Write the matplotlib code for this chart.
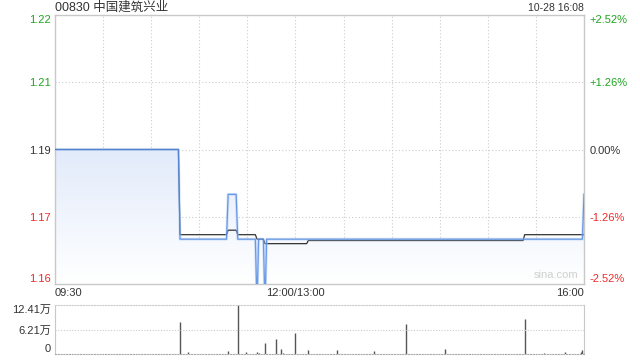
import numpy as np
import matplotlib
matplotlib.use("Agg")
import matplotlib.pyplot as plt
from matplotlib.patches import Polygon
from matplotlib.colors import LinearSegmentedColormap

plt.rcParams['font.family'] = ['Liberation Sans', 'Noto Sans CJK SC', 'DejaVu Sans']

# ---- data ----
title = "00830 中国建筑兴业"
stamp = "10-28 16:08"
prev_close = 1.19

price_times = ["09:30", "10:47", "10:48", "11:17", "11:18", "11:23", "11:24", "11:35",
               "11:36", "11:37", "11:40", "11:41", "11:42", "15:59", "16:00"]
price_vals = [1.19, 1.19, 1.17, 1.17, 1.18, 1.18, 1.17, 1.17,
              1.155, 1.17, 1.17, 1.155, 1.17, 1.17, 1.18]

avg_times = ["09:30", "10:47", "10:48", "11:17", "11:18", "11:23", "11:24", "11:35",
             "11:36", "11:40", "11:41", "13:07", "13:08", "15:22", "15:23", "16:00"]
avg_vals = [1.19, 1.19, 1.171, 1.171, 1.172, 1.172, 1.171, 1.171,
            1.170, 1.170, 1.169, 1.169, 1.1697, 1.1697, 1.171, 1.171]

vol_times = ["10:48", "10:53", "11:18", "11:24", "11:29", "11:36", "11:37", "11:41", "11:48",
             "11:51", "11:52", "13:00", "13:08", "13:26", "13:49", "14:09", "14:33", "15:23",
             "15:35", "15:48", "15:58", "15:59"]
vol_vals = [8.0, 0.58, 0.84, 12.41, 0.58, 0.58, 0.33, 2.86, 3.87,
            1.34, 0.3, 5.39, 1.1, 1.1, 0.75, 7.5, 1.3, 8.95,
            0.3, 0.6, 0.5, 1.0]  # 万

y_ticks = [1.16, 1.175, 1.19, 1.205, 1.22]
y_labels = ["1.16", "1.17", "1.19", "1.21", "1.22"]
pct_labels = ["-2.52%", "-1.26%", "0.00%", "+1.26%", "+2.52%"]
vol_ticks = [0, 6.205, 12.41]
vol_labels = ["0", "6.21万", "12.41万"]


def to_idx(t):
    # minutes from the open, lunch break removed
    h, m = map(int, t.split(":"))
    mins = h * 60 + m
    if mins <= 12 * 60:
        return mins - (9 * 60 + 30)
    return 150 + mins - 13 * 60


GREEN = "#1fa51f"
RED = "#ee2a2a"
TXT = "#333333"
GRID = "#cccccc"
EDGE = "#c8c8c8"

px = np.array([to_idx(t) for t in price_times])
pv = np.array(price_vals)
ax_ = np.array([to_idx(t) for t in avg_times])
av = np.array(avg_vals)
vx = np.array([to_idx(t) for t in vol_times])
vv = np.array(vol_vals)

fig = plt.figure(figsize=(6.4, 3.6), dpi=100)
ax = fig.add_axes([55 / 640, 1 - 284 / 360, 529 / 640, 269 / 360])
axv = fig.add_axes([55 / 640, 1 - 354 / 360, 529 / 640, 49 / 360])

ax.set_xlim(0, 330)
ax.set_ylim(1.16, 1.22)

# gradient fill under the price line
grad = np.linspace(0, 1, 256).reshape(-1, 1)
cm = LinearSegmentedColormap.from_list("g", ["#ffffff", "#e2ebfb"])
im = ax.imshow(grad, extent=[0, 330, 1.16, prev_close], origin="lower", aspect="auto",
               cmap=cm, zorder=1)
poly_pts = np.column_stack([np.r_[px, px[-1], px[0]], np.r_[pv, 1.14, 1.14]])
clip = Polygon(poly_pts, closed=True, transform=ax.transData, facecolor="none", edgecolor="none")
ax.add_patch(clip)
im.set_clip_path(clip)

# grid
for x in range(30, 330, 30):
    ax.axvline(x, color=GRID, lw=0.8, ls=(0, (1, 2)), zorder=0)
for y in [1.175, 1.19, 1.205]:
    ax.axhline(y, color=GRID, lw=0.8, ls=(0, (1, 2)), zorder=0)

ax.plot(ax_, av, color="#333333", lw=0.9, zorder=3)
ax.plot(px, pv, color="#a9c8f6", lw=2.0, alpha=0.5, zorder=4)
ax.plot(px, pv, color="#4f86e0", lw=0.9, alpha=0.8, zorder=4)

for s in ax.spines.values():
    s.set_color(EDGE)
    s.set_linewidth(1)

ax.set_yticks(y_ticks)
ax.set_yticklabels(y_labels)
ax.tick_params(axis="y", length=0, labelsize=8, pad=3)
cols = [RED, RED, TXT, GREEN, GREEN]
for lab, c in zip(ax.get_yticklabels(), cols):
    lab.set_color(c)
ax.get_yticklabels()[0].set_va("bottom")
ax.get_yticklabels()[-1].set_va("top")

axr = ax.twinx()
axr.set_ylim(1.16, 1.22)
axr.set_yticks(y_ticks)
axr.set_yticklabels(pct_labels)
axr.tick_params(axis="y", length=0, labelsize=8, pad=4)
for lab, c in zip(axr.get_yticklabels(), cols):
    lab.set_color(c)
axr.get_yticklabels()[0].set_va("bottom")
axr.get_yticklabels()[-1].set_va("top")
for s in axr.spines.values():
    s.set_visible(False)

ax.set_xticks([0, 150, 330])
ax.set_xticklabels(["09:30", "12:00/13:00", "16:00"])
ax.tick_params(axis="x", length=0, labelsize=8, pad=3, labelcolor=TXT)
xl = ax.get_xticklabels()
xl[0].set_ha("left")
xl[-1].set_ha("right")

ax.text(0.99, 0.015, "sina.com", transform=ax.transAxes, ha="right", va="bottom",
        fontsize=8, color="#cfcfcf", zorder=5)

fig.text(55 / 640, 1 - 8 / 360, title, ha="left", va="center", fontsize=9, color=TXT)
fig.text(584 / 640, 1 - 8 / 360, stamp, ha="right", va="center", fontsize=7.5, color=TXT)

# volume panel
axv.set_xlim(0, 330)
axv.set_ylim(0, 12.41)
axv.vlines(vx, 0, vv, color="#555555", lw=1)
axv.axhline(6.205, color=GRID, lw=0.8, ls=(0, (1, 1.5)))
axv.spines["left"].set_color(EDGE)
axv.spines["right"].set_color(EDGE)
axv.spines["top"].set_color(GRID)
axv.spines["top"].set_linestyle((0, (1, 1.5)))
axv.spines["bottom"].set_color("#aaaaaa")
axv.spines["bottom"].set_linestyle((0, (1, 1.5)))
axv.set_xticks([])
axv.set_yticks(vol_ticks)
axv.set_yticklabels(vol_labels)
axv.tick_params(axis="y", length=0, labelsize=8, pad=3, labelcolor=TXT)
vl = axv.get_yticklabels()
vl[0].set_va("bottom")
vl[-1].set_va("top")

fig.savefig("out.png", dpi=100)
